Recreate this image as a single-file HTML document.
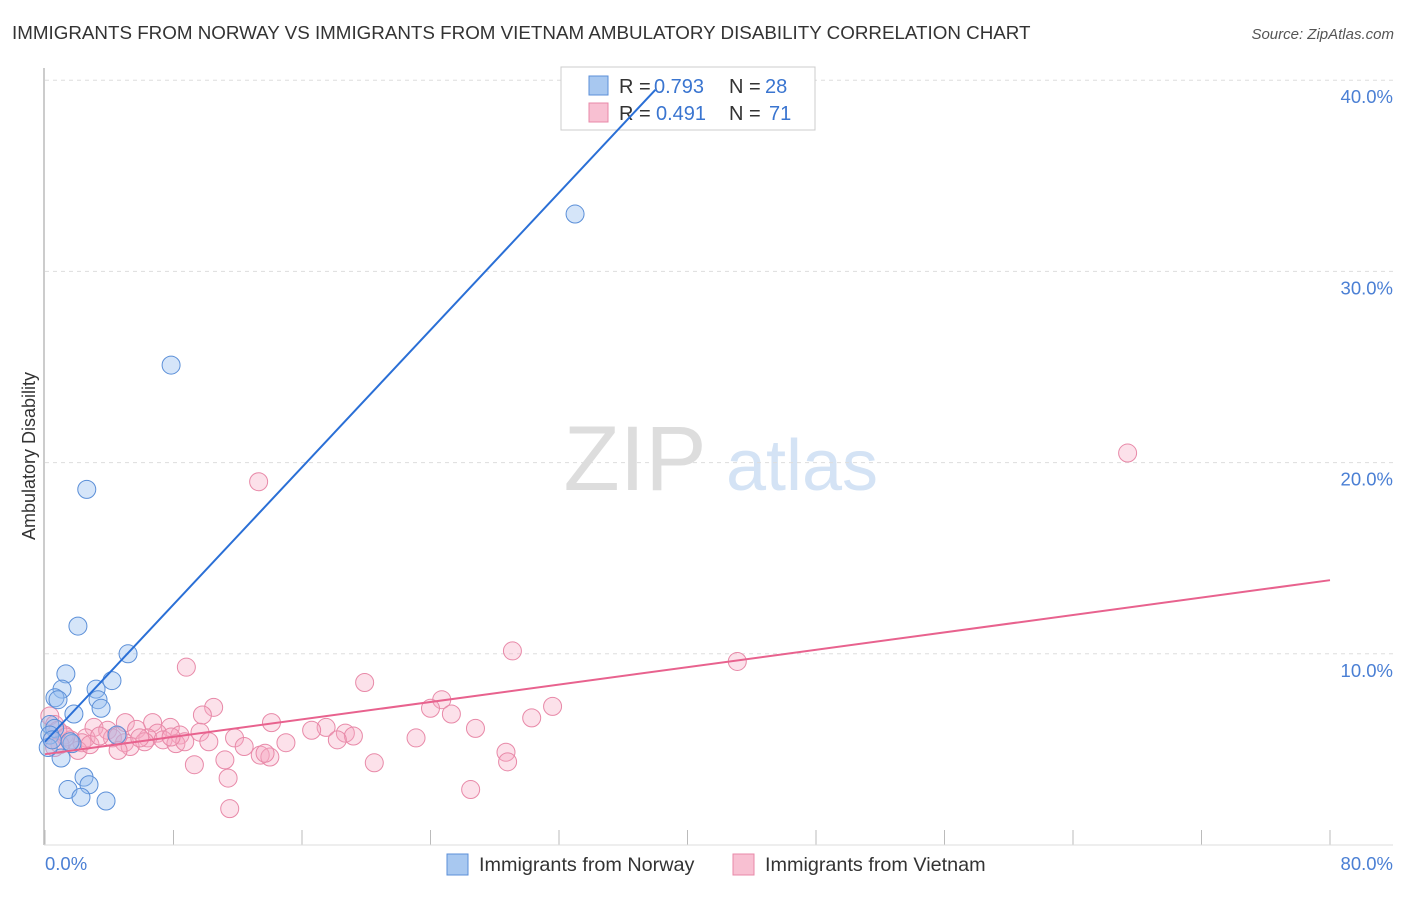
<!DOCTYPE html>
<html><head><meta charset="utf-8"><style>
body{margin:0;background:#fff;font-family:"Liberation Sans",sans-serif}
svg text{font-family:"Liberation Sans",sans-serif}
</style></head><body>
<svg id="chart" width="1406" height="892" viewBox="0 0 1406 892" xmlns="http://www.w3.org/2000/svg">
<text x="12" y="39" font-size="18.8" fill="#333">IMMIGRANTS FROM NORWAY VS IMMIGRANTS FROM VIETNAM AMBULATORY DISABILITY CORRELATION CHART</text>
<text x="1394" y="39" font-size="15" fill="#555" text-anchor="end" font-style="italic">Source: ZipAtlas.com</text>
<g>
<text x="635" y="490" font-size="92" fill="#ddd" text-anchor="middle" font-family="Liberation Serif">ZIP</text>
<text x="802" y="490" font-size="72" fill="#d4e3f5" text-anchor="middle">atlas</text>
</g>
<g id="grid"></g>
<line x1="44" y1="68" x2="44" y2="845" stroke="#bbb" stroke-width="1.5"/>
<line x1="44" y1="845" x2="1393" y2="845" stroke="#ddd" stroke-width="1"/>
<text transform="translate(35,456) rotate(-90)" font-size="18" fill="#333" text-anchor="middle">Ambulatory Disability</text>
<text x="45" y="870" font-size="18.5" fill="#4a7fd4">0.0%</text>
<text x="1393" y="870" font-size="18.5" fill="#4a7fd4" text-anchor="end">80.0%</text>
<g id="points"></g>
<g>
<rect x="561" y="67" width="254" height="63" fill="#fff" stroke="#ccc"/>
<rect x="589" y="76" width="19" height="19" fill="#a8c8f0" stroke="#5b8fd8"/>
<rect x="589" y="103" width="19" height="19" fill="#f8c0d2" stroke="#e889a8"/>
<text x="619" y="93" font-size="20" fill="#333">R =</text>
<text x="654" y="93" font-size="20" fill="#3a75d0">0.793</text>
<text x="729" y="93" font-size="20" fill="#333">N =</text>
<text x="765" y="93" font-size="20" fill="#3a75d0">28</text>
<text x="619" y="120" font-size="20" fill="#333">R =</text>
<text x="656" y="120" font-size="20" fill="#3a75d0">0.491</text>
<text x="729" y="120" font-size="20" fill="#333">N =</text>
<text x="769" y="120" font-size="20" fill="#3a75d0">71</text>
</g>
<g id="lines"></g>
<g>
<rect x="447" y="854" width="21" height="21" fill="#a8c8f0" stroke="#5b8fd8"/>
<text x="479" y="871" font-size="19.8" fill="#333">Immigrants from Norway</text>
<rect x="733" y="854" width="21" height="21" fill="#f8c0d2" stroke="#e889a8"/>
<text x="765" y="871" font-size="19.8" fill="#333">Immigrants from Vietnam</text>
</g>
</svg>
<script>
const yTicks=[10,20,30,40];
const xTicks=[0,8,16,24,32,40,48,56,64,72,80];
const norwayX=[33.0,7.85,2.6,2.05,5.17,1.3,1.06,3.18,4.17,0.62,0.81,3.3,3.49,1.8,0.3,0.6,0.3,1.68,4.48,1.0,2.43,2.74,1.43,2.24,3.8,0.2,0.45,1.56];
const norwayY=[33.0,25.1,18.6,11.45,10.0,8.95,8.15,8.15,8.6,7.7,7.6,7.6,7.15,6.85,6.3,6.1,5.75,5.3,5.75,4.55,3.55,3.15,2.9,2.5,2.3,5.1,5.5,5.4];
const vietnamX=[67.4,13.3,43.1,29.1,8.8,19.9,24.7,10.5,31.6,24.0,25.3,9.8,30.3,26.8,14.1,17.5,16.6,18.7,19.2,9.65,6.7,5.0,7.8,3.05,3.9,5.7,7.0,8.4,6.4,7.35,4.2,2.55,1.2,1.6,2.3,4.95,6.2,8.15,8.7,11.8,10.2,15.0,18.2,23.1,12.4,5.3,2.05,4.55,13.4,14.0,13.7,28.7,28.8,11.2,9.3,20.5,11.4,26.5,11.5,0.3,0.6,0.8,0.45,0.93,1.3,2.8,3.4,5.9,7.85,4.55,0.6];
const vietnamY=[20.5,19.0,9.6,10.15,9.3,8.5,7.6,7.2,7.25,7.15,6.85,6.8,6.65,6.1,6.4,6.15,6.0,5.85,5.7,5.9,6.4,6.4,6.15,6.15,6.0,6.05,5.85,5.75,5.6,5.5,5.6,5.6,5.75,5.5,5.35,5.35,5.4,5.3,5.4,5.6,5.4,5.35,5.5,5.6,5.15,5.15,4.95,4.95,4.7,4.6,4.8,4.85,4.35,4.45,4.2,4.3,3.5,2.9,1.9,6.75,6.3,6.0,5.5,5.25,5.65,5.25,5.7,5.6,5.65,5.7,5.1];
const norwayTrend=[[0,5.4],[38,39.5]];
const vietnamTrend=[[0,4.75],[80,13.85]];
const NS="http://www.w3.org/2000/svg";
const xS=v=>45+v/80*1285;
const yS=v=>845-v*19.12;
function mk(t,a){const e=document.createElementNS(NS,t);for(const k in a)e.setAttribute(k,a[k]);return e;}
const grid=document.getElementById('grid');
yTicks.forEach(t=>{
 const l=mk('line',{x1:45,x2:1393,y1:yS(t),y2:yS(t),stroke:'#ddd','stroke-dasharray':'4,4'});
 
 
 grid.appendChild(l);
 const tx=mk('text',{x:1393,y:yS(t)+23,'font-size':18.5,fill:'#4a7fd4','text-anchor':'end'});
 tx.textContent=t.toFixed(1)+'%';
 
 
 grid.appendChild(tx);
});
xTicks.forEach(t=>{
 const l=mk('line',{x1:xS(t),x2:xS(t),y1:830,y2:845,stroke:'#bbb'});
 
 
 grid.appendChild(l);
});
const pts=document.getElementById('points');
vietnamX.forEach((x,i)=>{
 const c=mk('circle',{cx:xS(x),cy:yS(vietnamY[i]),r:9,fill:'rgba(245,170,195,0.35)',stroke:'#e889a8','stroke-width':1});
 
 
 pts.appendChild(c);
});
norwayX.forEach((x,i)=>{
 const c=mk('circle',{cx:xS(x),cy:yS(norwayY[i]),r:9,fill:'rgba(150,190,240,0.4)',stroke:'#5b8fd8','stroke-width':1});
 
 
 pts.appendChild(c);
});
const lines=document.getElementById('lines');
const l1=mk('line',{x1:xS(norwayTrend[0][0]),y1:yS(norwayTrend[0][1]),x2:xS(norwayTrend[1][0]),y2:yS(norwayTrend[1][1]),stroke:'#2a6fd6','stroke-width':2});


lines.appendChild(l1);
const l2=mk('line',{x1:xS(vietnamTrend[0][0]),y1:yS(vietnamTrend[0][1]),x2:xS(vietnamTrend[1][0]),y2:yS(vietnamTrend[1][1]),stroke:'#e8628e','stroke-width':2});


lines.appendChild(l2);
</script>
</body></html>
